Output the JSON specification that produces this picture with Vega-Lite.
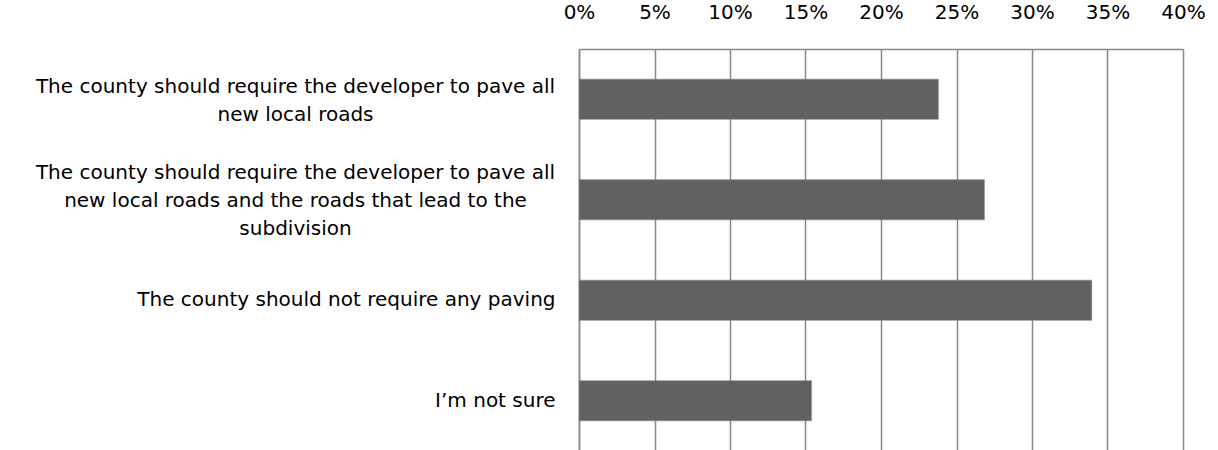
{
  "$schema": "https://vega.github.io/schema/vega-lite/v6.json",
  "autosize": {"type": "none"},
  "padding": {"left": 579, "top": 49, "right": 35, "bottom": 0},
  "width": 604,
  "height": 402,
  "background": "white",
  "config": {
    "view": {"stroke": null},
    "font": "DejaVu Sans"
  },
  "data": {
    "values": [
      {"answer": "The county should require the developer to pave all new local roads", "share": 0.238},
      {"answer": "The county should require the developer to pave all new local roads and the roads that lead to the subdivision", "share": 0.2685},
      {"answer": "The county should not require any paving", "share": 0.3396},
      {"answer": "I’m not sure", "share": 0.154}
    ]
  },
  "mark": {"type": "bar", "color": "#616161", "stroke": "#8a8a8a", "strokeWidth": 0.6},
  "encoding": {
    "y": {
      "field": "answer",
      "type": "nominal",
      "sort": null,
      "scale": {"paddingInner": 0.6, "paddingOuter": 0.3},
      "axis": {
        "title": null,
        "ticks": false,
        "domainColor": "#888888",
        "domainWidth": 1.5,
        "labelFontSize": 20,
        "labelColor": "#000000",
        "labelLimit": 0,
        "labelLineHeight": 28,
        "labelAlign": {"condition": {"test": "length(datum.value) > 45", "value": "center"}, "value": "right"},
        "labelPadding": {"condition": {"test": "length(datum.value) > 45", "value": 284}, "value": 24},
        "labelOffset": {"condition": [{"test": "length(datum.value) > 80", "value": -27}, {"test": "length(datum.value) > 45", "value": -12}], "value": 0},
        "labelExpr": "datum.value == 'The county should require the developer to pave all new local roads' ? ['The county should require the developer to pave all', 'new local roads'] : datum.value == 'The county should require the developer to pave all new local roads and the roads that lead to the subdivision' ? ['The county should require the developer to pave all', 'new local roads and the roads that lead to the', 'subdivision'] : datum.value"
      }
    },
    "x": {
      "field": "share",
      "type": "quantitative",
      "scale": {"domain": [0, 0.4]},
      "axis": {
        "title": null,
        "orient": "top",
        "format": ".0%",
        "values": [0, 0.05, 0.1, 0.15, 0.2, 0.25, 0.3, 0.35, 0.4],
        "ticks": false,
        "labelFontSize": 20,
        "labelColor": "#000000",
        "labelPadding": 27,
        "labelFlush": false,
        "labelOverlap": false,
        "domainColor": "#888888",
        "domainWidth": 1.5,
        "grid": true,
        "gridColor": "#888888",
        "gridWidth": 1.5
      }
    }
  }
}
